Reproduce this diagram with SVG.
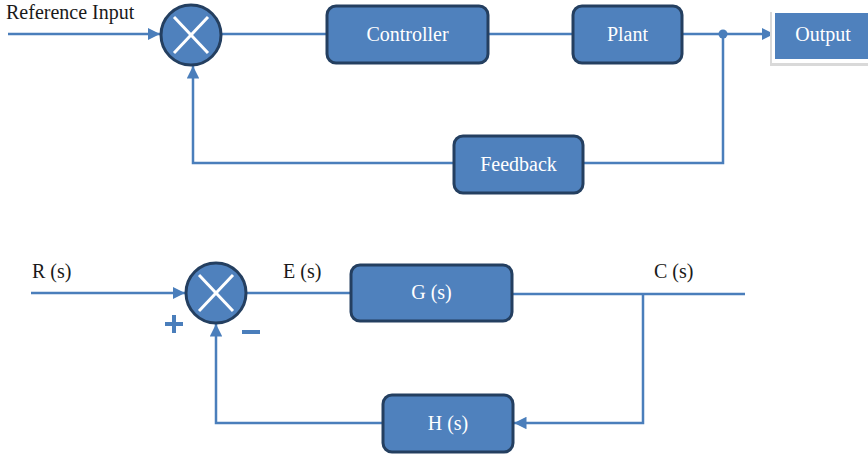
<svg xmlns="http://www.w3.org/2000/svg" width="868" height="455" viewBox="0 0 868 455">
<defs>
<style>
.box{fill:#4F81BD;stroke:#243F60;stroke-width:3}
.ln{fill:none;stroke:#4A7EBB;stroke-width:2.5}
.wt{fill:#fff;font-family:"Liberation Serif",serif;font-size:20px;text-anchor:middle}
.bt{fill:#1a1a1a;font-family:"Liberation Serif",serif;font-size:20px}
.x{stroke:#fff;stroke-width:3}
.sign{fill:none;stroke:#4A7EBB;stroke-width:4}
</style>
<marker id="ar" viewBox="0 0 10 10" refX="10" refY="5" markerWidth="5" markerHeight="5" orient="auto" markerUnits="strokeWidth"><path d="M0,0L10,5L0,10z" fill="#4A7EBB"/></marker>
</defs>
<rect width="868" height="455" fill="#fff"/>
<g id="connectors">
<line class="ln" x1="8" y1="34" x2="160" y2="34" marker-end="url(#ar)"/>
<line class="ln" x1="222" y1="34" x2="327" y2="34"/>
<line class="ln" x1="488" y1="34" x2="573" y2="34"/>
<line class="ln" x1="682" y1="34" x2="774" y2="34" marker-end="url(#ar)"/>
<circle cx="723" cy="34" r="4.5" fill="#4A7EBB"/>
<polyline class="ln" points="723,34 723,163 583,163"/>
<polyline class="ln" points="453,163 193,163 193,66" marker-end="url(#ar)"/>
<line class="ln" x1="31" y1="293" x2="185" y2="293" marker-end="url(#ar)"/>
<line class="ln" x1="247" y1="293" x2="350" y2="293"/>
<line class="ln" x1="512" y1="294" x2="745" y2="294"/>
<polyline class="ln" points="643,294 643,423 514,423" marker-end="url(#ar)"/>
<polyline class="ln" points="382,423 216,423 216,324" marker-end="url(#ar)"/>
</g>
<g id="sum1">
<circle cx="191" cy="35" r="30" class="box"/>
<line class="x" x1="174" y1="17" x2="208" y2="53"/>
<line class="x" x1="208" y1="17" x2="174" y2="53"/>
</g>
<g id="controller"><rect class="box" x="327" y="6" width="161" height="57" rx="9"/><text class="wt" x="407.5" y="41">Controller</text></g>
<g id="plant"><rect class="box" x="573" y="6" width="109" height="57" rx="9"/><text class="wt" x="627.5" y="41">Plant</text></g>
<g id="output">
<rect x="770" y="12" width="98" height="54" fill="#d9d9d9"/>
<rect x="772" y="11" width="96" height="52" fill="#fff"/>
<rect x="775" y="13" width="93" height="46" fill="#4F81BD"/>
<text class="wt" x="823" y="41">Output</text>
</g>
<g id="feedback"><rect class="box" x="454" y="136" width="129" height="57" rx="9"/><text class="wt" x="518.5" y="171">Feedback</text></g>
<text class="bt" x="6" y="19">Reference Input</text>
<g id="sum2">
<circle cx="216" cy="293" r="30" class="box"/>
<line class="x" x1="199" y1="275" x2="233" y2="311"/>
<line class="x" x1="233" y1="275" x2="199" y2="311"/>
</g>
<g id="g"><rect class="box" x="351" y="265" width="161" height="56" rx="9"/><text class="wt" x="431.5" y="299">G (s)</text></g>
<g id="h"><rect class="box" x="383" y="395" width="130" height="57" rx="9"/><text class="wt" x="448" y="430">H (s)</text></g>
<text class="bt" x="32" y="278">R (s)</text>
<text class="bt" x="283" y="278">E (s)</text>
<text class="bt" x="654" y="278">C (s)</text>
<path class="sign" d="M165,324h18M174,315v18"/>
<path class="sign" d="M242,332h18"/>
</svg>
